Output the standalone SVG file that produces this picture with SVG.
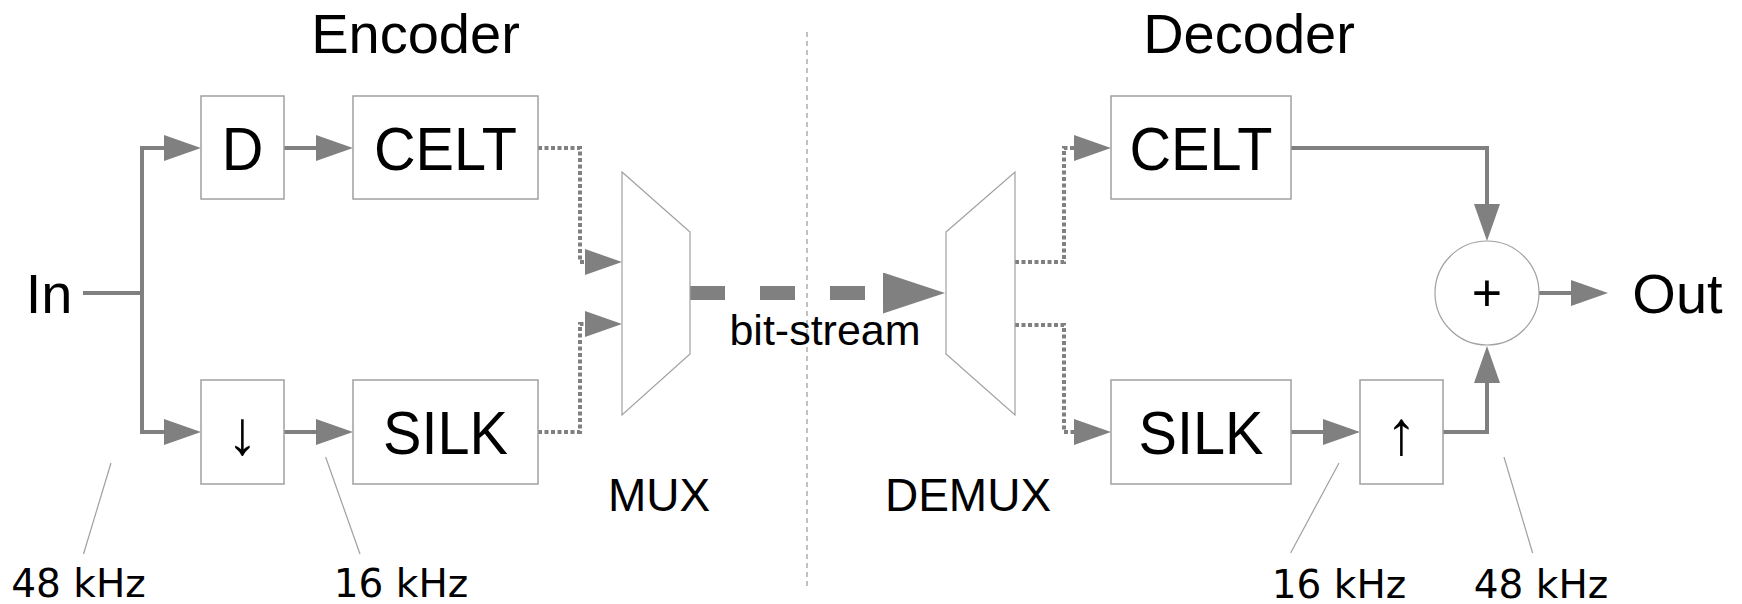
<svg xmlns="http://www.w3.org/2000/svg" width="1742" height="604" viewBox="0 0 1742 604">
<style>
.box{fill:#fff;stroke:#a0a0a0;stroke-width:1.5}
.lbl{font-family:"Liberation Sans",Arial,sans-serif;fill:#000;text-anchor:middle}
.big{font-family:"Liberation Sans",Arial,sans-serif;fill:#000;text-anchor:middle;font-size:62px}
.khz{font-family:"DejaVu Sans",sans-serif;font-size:39px;fill:#000;text-anchor:middle}
.wire{fill:none;stroke:#808080;stroke-width:4}
.dot{fill:none;stroke:#808080;stroke-width:4;stroke-dasharray:4 2.5}
.call{stroke:#a0a0a0;stroke-width:1.2}
</style>
<defs>
<marker id="ah" markerUnits="userSpaceOnUse" viewBox="0 0 37 26" refX="0" refY="13" markerWidth="37" markerHeight="26" orient="auto"><path d="M0,0 L37,13 L0,26 z" fill="#808080"/></marker>
<marker id="big" markerUnits="userSpaceOnUse" viewBox="0 0 62 41" refX="0" refY="20.5" markerWidth="62" markerHeight="41" orient="auto"><path d="M0,0 L62,20.5 L0,41 z" fill="#808080"/></marker>
</defs>
<rect width="1742" height="604" fill="#fff"/>
<line x1="807" y1="32" x2="807" y2="590" stroke="#999" stroke-width="1.2" stroke-dasharray="5 4"/>
<text class="lbl" x="415.5" y="53" font-size="56">Encoder</text>
<text class="lbl" x="1249" y="53" font-size="56">Decoder</text>
<g id="connectors">
<path class="wire" d="M83,293 H142"/>
<path class="wire" d="M142,293 V148 H164" marker-end="url(#ah)"/>
<path class="wire" d="M142,293 V432 H164" marker-end="url(#ah)"/>
<path class="wire" d="M284,148 H316" marker-end="url(#ah)"/>
<path class="wire" d="M284,432 H316" marker-end="url(#ah)"/>
<path class="dot" d="M538,148 H580 V262 H585" marker-end="url(#ah)"/>
<path class="dot" d="M538,432 H580 V324 H585" marker-end="url(#ah)"/>
<path fill="none" stroke="#808080" stroke-width="14" stroke-dasharray="35 35" d="M690,293 H883" marker-end="url(#big)"/>
<path class="dot" d="M1015,262 H1064 V148 H1074" marker-end="url(#ah)"/>
<path class="dot" d="M1015,325 H1064 V432 H1074" marker-end="url(#ah)"/>
<path class="wire" d="M1291,432 H1323" marker-end="url(#ah)"/>
<path class="wire" d="M1443,432 H1487 V383" marker-end="url(#ah)"/>
<path class="wire" d="M1291,148 H1487 V204" marker-end="url(#ah)"/>
<path class="wire" d="M1539,293 H1571" marker-end="url(#ah)"/>
<line class="call" x1="111" y1="463" x2="83.5" y2="554"/>
<line class="call" x1="325.6" y1="457" x2="360" y2="554"/>
<line class="call" x1="1339" y1="463" x2="1290.6" y2="553"/>
<line class="call" x1="1504" y1="457" x2="1532.6" y2="553"/>
</g>
<g id="in"><text class="lbl" x="49" y="313" font-size="56">In</text></g>
<g id="delay"><rect class="box" x="201" y="96" width="83" height="103"/><text class="big" transform="translate(242.5,170) scale(0.93,1)">D</text></g>
<g id="celt-enc"><rect class="box" x="353" y="96" width="185" height="103"/><text class="big" transform="translate(445.5,170) scale(0.93,1)">CELT</text></g>
<g id="down"><rect class="box" x="201" y="380" width="83" height="104"/><text class="lbl" x="242.5" y="454" font-size="62">↓</text></g>
<g id="silk-enc"><rect class="box" x="353" y="380" width="185" height="104"/><text class="big" transform="translate(445.5,454) scale(0.93,1)">SILK</text></g>
<g id="mux"><polygon points="622,172 690,232 690,354 622,415" fill="#fff" stroke="#a0a0a0" stroke-width="1.2"/><text class="lbl" x="659" y="511" font-size="46">MUX</text></g>
<g id="bitstream"><text class="lbl" x="825" y="345" font-size="43">bit-stream</text></g>
<g id="demux"><polygon points="946,232 1015,172 1015,415 946,354" fill="#fff" stroke="#a0a0a0" stroke-width="1.2"/><text class="lbl" x="968" y="511" font-size="46">DEMUX</text></g>
<g id="celt-dec"><rect class="box" x="1111" y="96" width="180" height="103"/><text class="big" transform="translate(1201,170) scale(0.93,1)">CELT</text></g>
<g id="silk-dec"><rect class="box" x="1111" y="380" width="180" height="104"/><text class="big" transform="translate(1201,454) scale(0.93,1)">SILK</text></g>
<g id="up"><rect class="box" x="1360" y="380" width="83" height="104"/><text class="lbl" x="1401.5" y="454" font-size="62">↑</text></g>
<g id="sum"><circle cx="1487" cy="293" r="52" fill="#fff" stroke="#a0a0a0" stroke-width="1.2"/><text class="lbl" x="1487" y="311" font-size="52">+</text></g>
<g id="out"><text class="lbl" x="1677.5" y="313" font-size="56">Out</text></g>
<g id="rates">
<text class="khz" x="78.5" y="597">48 kHz</text>
<text class="khz" x="401" y="597">16 kHz</text>
<text class="khz" x="1339" y="598">16 kHz</text>
<text class="khz" x="1541" y="598">48 kHz</text>
</g>
</svg>
